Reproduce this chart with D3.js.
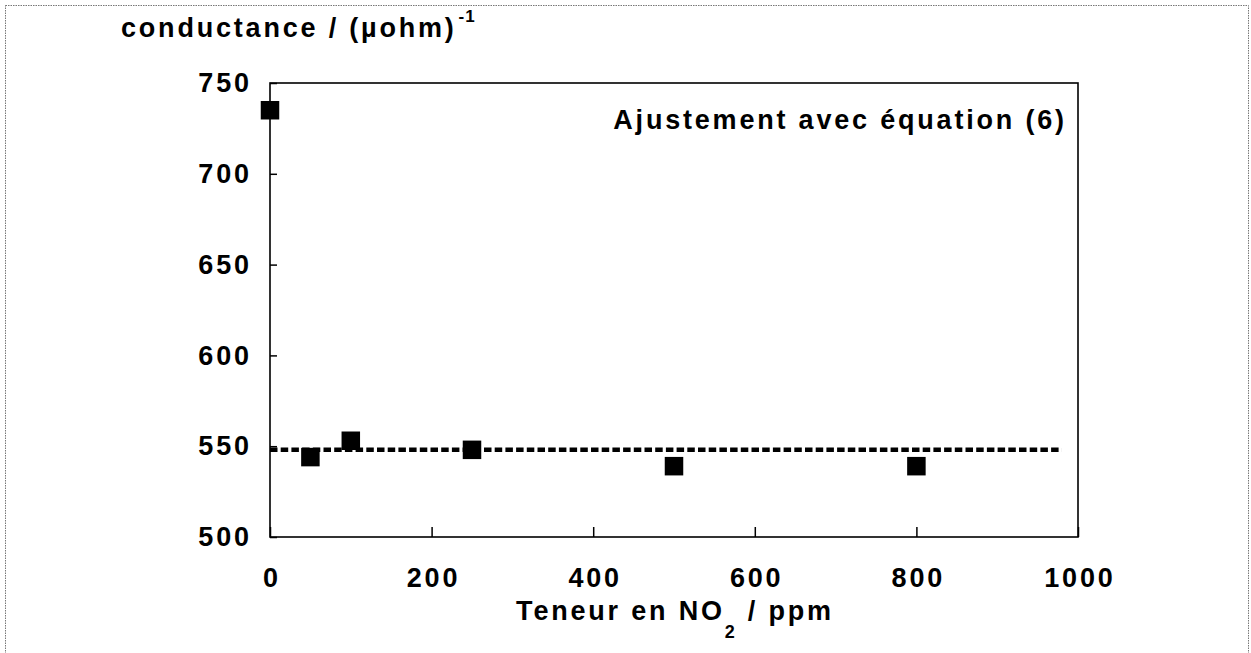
<!DOCTYPE html>
<html>
<head>
<meta charset="utf-8">
<script src="https://cdn.jsdelivr.net/npm/d3@7"></script>
<style>
  html, body { margin: 0; padding: 0; background: #fff; }
  svg { display: block; }
  text { font-family: "Liberation Sans", Arial, sans-serif; font-weight: bold; fill: #000; }
</style>
</head>
<body>
<svg id="chart" width="1251" height="653"></svg>
<script>
// ---- data ----
const xValues = [0, 50, 100, 250, 500, 800];
const yValues = [735, 544, 553, 548, 539, 539];
const fitX = [0, 980];
const fitY = [548, 548];
const xTicks = [0, 200, 400, 600, 800, 1000];
const yTicks = [500, 550, 600, 650, 700, 750];
const yTitle = "conductance / (\u00B5ohm)";
const yTitleSup = "-1";
const xTitleMain = "Teneur en NO";
const xTitleSub = "2";
const xTitleEnd = " / ppm";
const annotation = "Ajustement avec \u00E9quation (6)";

// ---- layout ----
const svg = d3.select("#chart");
const pLeft = 270, pRight = 1078, pTop = 83, pBottom = 537;
const x = d3.scaleLinear().domain([0, 1000]).range([pLeft, pRight]);
const y = d3.scaleLinear().domain([500, 750]).range([pBottom, pTop]);

// outer dotted frame
svg.append("rect")
  .attr("x", 5.5).attr("y", 5.5).attr("width", 1243).attr("height", 700)
  .attr("fill", "none").attr("stroke", "#777").attr("stroke-width", 1)
  .attr("stroke-dasharray", "1.5,1");

// plot frame
svg.append("rect")
  .attr("x", pLeft).attr("y", pTop).attr("width", pRight - pLeft).attr("height", pBottom - pTop)
  .attr("fill", "none").attr("stroke", "#000").attr("stroke-width", 1.6);

const fs = 27, ls = 2.8;

// x axis
const gx = svg.append("g").attr("transform", `translate(0,${pBottom})`)
  .call(d3.axisBottom(x).tickValues(xTicks).tickSize(-10).tickPadding(31).tickFormat(d3.format("d")));
gx.select(".domain").remove();
gx.selectAll(".tick line").attr("stroke", "#000").attr("stroke-width", 1.5);
gx.selectAll(".tick text").attr("font-size", fs).attr("letter-spacing", ls)
  .attr("dx", ls / 2).attr("font-family", "Liberation Sans").attr("font-weight", "bold").attr("fill", "#000");

// y axis
const gy = svg.append("g").attr("transform", `translate(${pLeft},0)`)
  .call(d3.axisLeft(y).tickValues(yTicks).tickSize(-7).tickPadding(21).tickFormat(d3.format("d")));
gy.select(".domain").remove();
gy.selectAll(".tick line").attr("stroke", "#000").attr("stroke-width", 1.5);
gy.selectAll(".tick text").attr("font-size", fs).attr("letter-spacing", ls)
  .attr("dx", ls).attr("font-family", "Liberation Sans").attr("font-weight", "bold").attr("fill", "#000");

// fit line
const fitData = fitX.map((d, i) => [d, fitY[i]]);
svg.append("path")
  .datum(fitData)
  .attr("d", d3.line().x(d => x(d[0])).y(d => y(d[1])))
  .attr("fill", "none").attr("stroke", "#000").attr("stroke-width", 4.5)
  .attr("stroke-dasharray", "7.5,3.2");

// points
const sq = 18.5;
svg.selectAll("rect.pt").data(xValues.map((d, i) => [d, yValues[i]]))
  .enter().append("rect").attr("class", "pt")
  .attr("x", d => x(d[0]) - sq / 2).attr("y", d => y(d[1]) - sq / 2)
  .attr("width", sq).attr("height", sq).attr("fill", "#000");

// y title
const yt = svg.append("text").attr("x", 121).attr("y", 37)
  .attr("font-size", fs).attr("letter-spacing", ls);
yt.append("tspan").text(yTitle);
yt.append("tspan").attr("font-size", 17).attr("dy", -15).attr("dx", 2).attr("letter-spacing", 1).text(yTitleSup);

// x title
const xt = svg.append("text").attr("x", 675).attr("y", 620).attr("text-anchor", "middle")
  .attr("font-size", fs).attr("letter-spacing", ls);
xt.append("tspan").text(xTitleMain);
xt.append("tspan").attr("font-size", 18).attr("dy", 18).text(xTitleSub);
xt.append("tspan").attr("dy", -18).text(xTitleEnd);

// annotation
svg.append("text").attr("x", 1064 + ls).attr("y", 129).attr("text-anchor", "end")
  .attr("font-size", fs).attr("letter-spacing", ls).text(annotation);
</script>
</body>
</html>
